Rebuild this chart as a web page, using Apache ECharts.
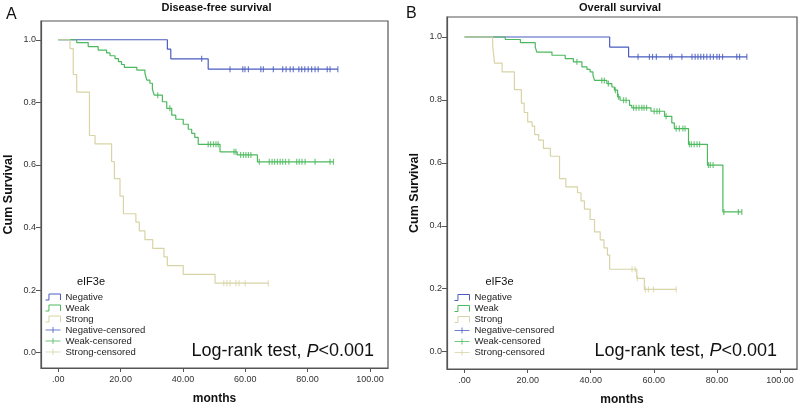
<!DOCTYPE html>
<html><head><meta charset="utf-8">
<script src="https://cdn.jsdelivr.net/npm/echarts@6/dist/echarts.min.js"></script>
<style>html,body{margin:0;padding:0;background:#fff}#c{width:800px;height:407px}</style>
</head><body><div id="c"></div>
<script>
const groups = ['Negative', 'Weak', 'Strong'];
const xTicks = [0, 20, 40, 60, 80, 100];
const yTicks = [0, 0.2, 0.4, 0.6, 0.8, 1.0];

// Disease-free survival (panel A)
const dfsNegT = [0, 35.0, 36.1, 48.1];
const dfsNegS = [1, 0.970, 0.939, 0.906];
const dfsNegCens = [46.0, 55.1, 59.2, 59.9, 61.0, 65.0, 65.8, 69.0, 72.0, 73.1, 74.4, 75.4, 77.2, 78.1, 79.1, 80.2, 81.3, 82.4, 83.4, 86.3, 87.2, 89.7];
const dfsWeakT = [0, 5.9, 9.6, 12.8, 15.5, 16.6, 18.2, 19.3, 20.3, 21.2, 25.2, 27.8, 28.4, 29.4, 30.2, 30.8, 33.4, 34.8, 36.4, 37.7, 40.1, 41.7, 42.8, 43.8, 44.9, 51.9, 57.4, 63.9];
const dfsWeakS = [1, 0.991, 0.978, 0.967, 0.958, 0.949, 0.940, 0.930, 0.921, 0.912, 0.903, 0.893, 0.871, 0.861, 0.842, 0.823, 0.802, 0.781, 0.759, 0.746, 0.730, 0.714, 0.701, 0.688, 0.666, 0.642, 0.632, 0.610];
const dfsWeakCens = [31.9, 35.8, 48.1, 48.9, 49.8, 50.6, 51.3, 56.4, 57.0, 58.5, 59.4, 60.2, 61.0, 61.8, 64.5, 67.7, 68.6, 69.4, 70.3, 71.2, 72.0, 72.9, 74.0, 76.5, 77.3, 78.2, 79.2, 82.4, 87.2, 88.3];
const dfsStrongT = [0, 3.75, 4.8, 5.9, 10.0, 11.8, 17.1, 18.0, 19.8, 20.9, 24.9, 26.0, 27.8, 30.3, 33.9, 35.0, 40.1, 50.3];
const dfsStrongS = [1, 0.972, 0.889, 0.833, 0.694, 0.667, 0.611, 0.556, 0.500, 0.444, 0.417, 0.389, 0.361, 0.333, 0.306, 0.278, 0.250, 0.222];
const dfsStrongCens = [53.1, 54.1, 55.1, 57.0, 58.0, 60.0, 67.4];

// Overall survival (panel B)
const osNegT = [0, 46.0, 52.0];
const osNegS = [1, 0.968, 0.937];
const osNegCens = [55.0, 58.6, 59.6, 60.8, 65.0, 65.7, 68.9, 72.1, 73.1, 74.0, 74.9, 75.8, 76.8, 77.9, 78.9, 80.0, 80.8, 81.8, 86.3, 87.2, 89.5];
const osWeakT = [0, 12.9, 17.7, 22.4, 22.9, 27.7, 31.9, 34.5, 37.2, 38.8, 39.8, 40.7, 41.2, 45.1, 46.7, 47.5, 48.5, 49.3, 52.3, 53.0, 59.1, 63.4, 65.7, 66.5, 71.0, 77.0, 81.9];
const osWeakS = [1, 0.992, 0.982, 0.968, 0.952, 0.942, 0.931, 0.921, 0.905, 0.897, 0.889, 0.878, 0.862, 0.852, 0.841, 0.831, 0.810, 0.799, 0.783, 0.775, 0.764, 0.748, 0.727, 0.709, 0.659, 0.593, 0.444];
const osWeakCens = [35.6, 43.5, 44.3, 45.6, 47.8, 48.8, 50.4, 51.2, 53.6, 54.4, 55.3, 56.2, 56.9, 57.7, 60.1, 61.0, 61.8, 63.9, 67.1, 68.1, 69.2, 69.9, 71.3, 71.9, 72.8, 73.7, 74.5, 77.3, 77.9, 78.8, 82.2, 86.8, 87.9];
const osStrongT = [0, 8.9, 9.5, 11.9, 15.8, 18.0, 18.9, 20.0, 21.4, 22.2, 23.5, 25.0, 27.2, 30.1, 32.1, 35.8, 36.9, 38.0, 39.8, 41.2, 43.0, 44.2, 45.3, 46.0, 54.6, 57.0];
const osStrongS = [1, 0.972, 0.917, 0.889, 0.833, 0.790, 0.760, 0.730, 0.717, 0.690, 0.672, 0.646, 0.621, 0.550, 0.524, 0.505, 0.479, 0.453, 0.420, 0.381, 0.355, 0.330, 0.307, 0.262, 0.233, 0.198];
const osStrongCens = [53.1, 54.1, 54.8, 57.3, 58.3, 59.9, 67.1];

const FONT = '"Liberation Sans", Arial, Helvetica, sans-serif';
const colors = ['#4a5cc0', '#4cb95c', '#d8d4a6'];
const axisColor = '#555';

function stepAt(T, S, t) { let v = S[0]; for (let i = 0; i < T.length; i++) { if (T[i] <= t) v = S[i]; } return v; }
function lineData(T, S, C) {
  const d = T.map((t, i) => [t, S[i]]);
  const last = Math.max(T[T.length - 1], ...C);
  if (last > T[T.length - 1]) d.push([last, S[S.length - 1]]);
  return d;
}
function censData(T, S, C) { return C.map(t => [t, stepAt(T, S, t)]); }

const panels = [
  { T: [dfsNegT, dfsWeakT, dfsStrongT], S: [dfsNegS, dfsWeakS, dfsStrongS], C: [dfsNegCens, dfsWeakCens, dfsStrongCens] },
  { T: [osNegT, osWeakT, osStrongT], S: [osNegS, osWeakS, osStrongS], C: [osNegCens, osWeakCens, osStrongCens] }
];

const series = [];
panels.forEach((p, pi) => {
  groups.forEach((g, gi) => {
    series.push({
      name: g, type: 'line', step: 'end', xAxisIndex: pi, yAxisIndex: pi,
      data: lineData(p.T[gi], p.S[gi], p.C[gi]), symbol: 'none', silent: true,
      lineStyle: { color: colors[gi], width: 1.2 }, itemStyle: { color: colors[gi] }, z: 2 + gi
    });
  });
  groups.forEach((g, gi) => {
    series.push({
      name: g + '-censored', type: 'scatter', xAxisIndex: pi, yAxisIndex: pi,
      data: censData(p.T[gi], p.S[gi], p.C[gi]), symbol: 'rect', symbolSize: [1.2, 6], silent: true,
      itemStyle: { color: colors[gi] }, z: 5 + gi
    });
  });
});

const stepIcon = 'path://M0,10L3,10L3,0L13,0L13,10';
const crossIcon = 'path://M0,5L16,5M8,0L8,10';
const legendData = groups.map((g, i) => ({ name: g, icon: stepIcon, itemStyle: { color: 'none', borderColor: colors[i], borderWidth: 1 } }))
  .concat(groups.map((g, i) => ({ name: g + '-censored', icon: crossIcon, itemStyle: { color: 'none', borderColor: colors[i], borderWidth: 1 } })));

function mkLegend(left, top) {
  return {
    left: left, top: top, orient: 'vertical', itemWidth: 15, itemHeight: 6, itemGap: 0,
    selectedMode: false, padding: 0, symbolKeepAspect: false,
    textStyle: { fontSize: 9.5, lineHeight: 10.5, color: '#222', fontFamily: FONT },
    data: legendData
  };
}

function mkX(idx, min, max) {
  return {
    type: 'value', gridIndex: idx, min: min, max: max,
    name: 'months', nameLocation: 'middle', nameGap: 25,
    nameTextStyle: { fontWeight: 'bold', fontSize: 12, color: '#111', fontFamily: FONT },
    axisLine: { show: true, onZero: false, lineStyle: { color: axisColor, width: 1.2 } },
    axisTick: { show: true, length: 4, customValues: xTicks, lineStyle: { color: axisColor } },
    axisLabel: { customValues: xTicks, margin: 7, fontSize: 9, color: '#333', fontFamily: FONT,
      formatter: v => (v === 0 ? '.00' : v.toFixed(2)) },
    splitLine: { show: false }
  };
}
function mkY(idx, min, max) {
  return {
    type: 'value', gridIndex: idx, min: min, max: max,
    name: 'Cum Survival', nameLocation: 'middle', nameGap: 26,
    nameTextStyle: { fontWeight: 'bold', fontSize: 12.5, color: '#111', fontFamily: FONT },
    axisLine: { show: true, onZero: false, lineStyle: { color: axisColor, width: 1.2 } },
    axisTick: { show: true, length: 5, customValues: yTicks, lineStyle: { color: axisColor } },
    axisLabel: { customValues: yTicks, margin: 5, fontSize: 9, color: '#333', fontFamily: FONT,
      formatter: v => v.toFixed(1) },
    splitLine: { show: false }
  };
}

function txt(text, x, y, font, align) {
  return { type: 'text', x: x, y: y, silent: true, style: { text: text, font: font, fill: '#111', align: align || 'center', verticalAlign: 'middle' } };
}
function logRank(x, y) {
  return { type: 'text', x: x, y: y, silent: true, style: {
    text: '{n|Log-rank test, }{i|P}{n|<0.001}', align: 'right', verticalAlign: 'middle',
    font: '18px ' + FONT, fill: '#111',
    rich: { n: { fontSize: 18, fontFamily: FONT, fill: '#111' }, i: { fontSize: 18, fontFamily: FONT, fontStyle: 'italic', fill: '#111' } }
  } };
}

const option = {
  animation: false,
  backgroundColor: '#fff',
  grid: [
    { left: 41, top: 21, width: 347, height: 347, outerBoundsMode: 'none', containLabel: false, show: true, borderColor: axisColor, borderWidth: 1.2, backgroundColor: '#fff' },
    { left: 447, top: 17, width: 350, height: 352, outerBoundsMode: 'none', containLabel: false, show: true, borderColor: axisColor, borderWidth: 1.2, backgroundColor: '#fff' }
  ],
  xAxis: [mkX(0, -5.55, 105.8), mkX(1, -5.58, 105.4)],
  yAxis: [mkY(0, -0.049, 1.06), mkY(1, -0.055, 1.0635)],
  legend: [mkLegend(43, 291.5), mkLegend(452, 292)],
  series: series,
  graphic: [
    txt('A', 6, 14.5, '16px ' + FONT, 'left'),
    txt('Disease-free survival', 216.5, 7.5, 'bold 11px ' + FONT),
    txt('B', 406, 14, '16px ' + FONT, 'left'),
    txt('Overall survival', 620, 7.5, 'bold 11px ' + FONT),
    txt('eIF3e', 91, 282, '11px ' + FONT),
    txt('eIF3e', 499.5, 282, '11px ' + FONT),
    logRank(374, 351.5),
    logRank(777, 351)
  ]
};

const chart = echarts.init(document.getElementById('c'), null, { renderer: 'canvas' });
chart.setOption(option);
</script>
</body></html>
